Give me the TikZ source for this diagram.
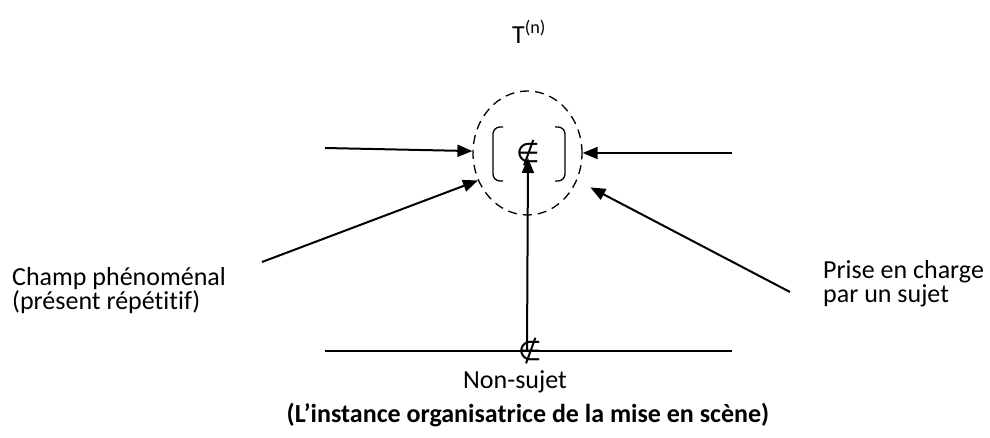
\documentclass[tikz,border=0pt]{standalone}
\usepackage{fontspec}
\setmainfont{Carlito}[Ligatures=NoCommon]
\newfontfamily\symbfont{DejaVu Sans}
\usetikzlibrary{arrows.meta, shapes.geometric, positioning, calc}

\begin{document}
\begin{tikzpicture}[x=1pt, y=-1pt,
	fleche/.style={line width=2pt, -{Triangle[length=15pt,width=12pt]}},
	texte/.style={inner sep=0pt, font=\fontsize{26}{24}\selectfont, align=left},
	symbole/.style={inner sep=0pt, font=\fontsize{27}{27}\symbfont}]
	\useasboundingbox (0,0) rectangle (990,437);
	\node[texte, anchor=base west] (titre) at (512,43) {T\textsuperscript{(n)}};
	\node[draw, dashed, ellipse, line width=1.3pt, dash pattern=on 9pt off 6pt, minimum width=109pt, minimum height=124pt, inner sep=0pt] (instance) at (527.5,153) {};
	\node[symbole] (elem) at (528,153) {∉};
	\draw[line width=1.3pt, rounded corners=7pt] (503,127) -- (493,127) -- (493,181) -- (503,181);
	\draw[line width=1.3pt, rounded corners=7pt] (555,127) -- (565,127) -- (565,181) -- (555,181);
	\coordinate (gauche) at (325,148);
	\coordinate (droite) at (732,153);
	\coordinate (champfin) at (262,262);
	\coordinate (pecfin) at (790,292);
	\coordinate (ligneG) at (325,351);
	\coordinate (ligneD) at (732,351);
	\coordinate (bas) at (527,351);
	\draw[fleche] (gauche) -- (instance.178);
	\draw[fleche] (droite) -- (instance.east);
	\draw[fleche] (champfin) -- (instance.209);
	\draw[fleche, shorten >=15pt] (pecfin) -- (instance.331);
	\draw[line width=2pt] (ligneG) -- (ligneD);
	\draw[fleche] (bas) -- ([yshift=-5pt]elem.center);
	\node[symbole] (elem2) at (530,351) {∉};
	\node[texte, anchor=north west] (champ) at (12,267) {Champ phénoménal\\(présent répétitif)};
	\node[texte, anchor=north west] (pec) at (823,260) {Prise en charge\\par un sujet};
	\node[texte, anchor=base] (nonsujet) at (515,388) {Non-sujet};
	\node[texte, anchor=base, font=\fontsize{26}{24}\selectfont\bfseries] (legende) at (528,422) {(L’instance organisatrice de la mise en scène)};
\end{tikzpicture}
\end{document}
